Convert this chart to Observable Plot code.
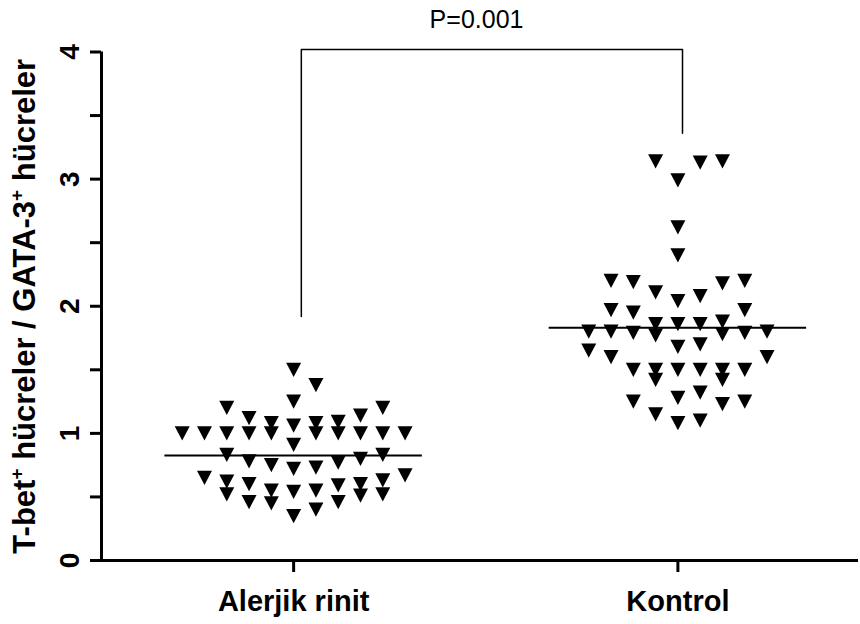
<!DOCTYPE html>
<html>
<head>
<meta charset="utf-8">
<script src="https://cdn.jsdelivr.net/npm/d3@7"></script>
<script src="https://cdn.jsdelivr.net/npm/@observablehq/plot@0.6"></script>
<style>
  html, body { margin: 0; padding: 0; background: #fff; }
</style>
</head>
<body>
<div id="chart"></div>
<script>
// ---- data ----
const groups = ["Alerjik rinit", "Kontrol"];
const alerjikRinit = [
  0.35, 0.40, 0.45, 0.46, 0.46, 0.51, 0.52, 0.52,
  0.54, 0.55, 0.55, 0.59, 0.60, 0.60, 0.62, 0.63, 0.65, 0.67,
  0.72, 0.73, 0.75, 0.77, 0.78, 0.80, 0.83, 0.83,
  0.91, 1.00, 1.00, 1.00, 1.00, 1.00, 1.00, 1.00, 1.00, 1.00, 1.00,
  1.06, 1.08, 1.08, 1.09, 1.12, 1.14, 1.20, 1.20,
  1.25, 1.38, 1.50
];
const kontrol = [
  1.08, 1.10, 1.15, 1.23, 1.25, 1.25,
  1.28, 1.32, 1.42, 1.42,
  1.50, 1.50, 1.50, 1.50, 1.50, 1.50, 1.60, 1.60, 1.65,
  1.68, 1.70, 1.77, 1.78, 1.79, 1.79, 1.80, 1.80, 1.80,
  1.86, 1.86, 1.86, 1.88, 1.95, 1.97, 1.97,
  2.04, 2.08, 2.11, 2.18, 2.19, 2.20, 2.20,
  2.40, 2.62,
  2.99, 3.13, 3.14, 3.14
];
const medians = [0.825, 1.83];
const yTicks = [0, 1, 2, 3, 4];
const yMinorTicks = [0.5, 1.5, 2.5, 3.5];
const pLabel = "P=0.001";
const bracketX = [0.02, 1.012];          // legs of the significance bracket
const bracketY = [1.92, 4.02, 3.36];     // left foot, top, right foot
const yTitleParts = ["T-bet", "+", " hücreler / GATA-3", "+", " hücreler"];

// ---- column-scatter layout (Prism-like rows, lowest value in centre) ----
const ROW_H = 0.175, ROW_MAX = 11, COL_W = 0.058;
function columnScatter(values, gi) {
  const sorted = values.slice().sort((a, b) => a - b);
  const rows = [];
  let row = null;
  for (const v of sorted) {
    if (!row || v >= row.start + ROW_H || row.items.length >= ROW_MAX) {
      row = {start: v, items: []};
      rows.push(row);
    }
    row.items.push(v);
  }
  const out = [];
  for (const r of rows) {
    r.items.forEach((v, k) => {
      const slot = k === 0 ? 0 : (k % 2 ? (k + 1) / 2 : -k / 2);
      out.push({group: groups[gi], gi, value: v, x: gi + slot * COL_W});
    });
  }
  return out;
}
const points = [...columnScatter(alerjikRinit, 0), ...columnScatter(kontrol, 1)];
const medianData = medians.map((m, gi) => ({gi, m}));
const bracket = [
  {x: bracketX[0], y: bracketY[0]},
  {x: bracketX[0], y: bracketY[1]},
  {x: bracketX[1], y: bracketY[1]},
  {x: bracketX[1], y: bracketY[2]}
];

// inverted triangle symbol, box-centred
const invTriangle = {
  draw(context, size) {
    const a = Math.sqrt(size / Math.PI);
    const h = a * 0.95;
    context.moveTo(-a, -h);
    context.lineTo(a, -h);
    context.lineTo(0, h);
    context.closePath();
  }
};

const titleText = yTitleParts.join("");

const chart = Plot.plot({
  width: 860,
  height: 624,
  marginLeft: 101,
  marginRight: 2,
  marginTop: 51.5,
  marginBottom: 64,
  x: {domain: [-0.5, 1.47], axis: null},
  y: {domain: [0, 4], axis: null},
  style: {fontFamily: "'Liberation Sans', Arial, sans-serif", background: "white", color: "black", overflow: "visible"},
  marks: [
    // axes lines
    Plot.ruleX([-0.5], {y1: 0, y2: 4, strokeWidth: 3, stroke: "black"}),
    Plot.ruleY([0], {x1: -0.5, x2: 1.47, strokeWidth: 3, stroke: "black"}),
    // y ticks (major + minor)
    Plot.axisY([...yTicks, ...yMinorTicks], {tickSize: 11, strokeWidth: 3, tickFormat: () => "", stroke: "black", label: null}),
    // x ticks
    Plot.axisX([0, 1], {tickSize: 12, strokeWidth: 3, tickFormat: () => "", stroke: "black", label: null}),
    // y tick labels
    Plot.text(yTicks, {x: -0.5, y: d => d, text: d => String(d), rotate: -90, dx: -23,
      lineAnchor: "bottom", textAnchor: "middle", fontSize: 28, fontWeight: "bold", fill: "black"}),
    // x labels
    Plot.text(groups, {x: (d, i) => i, y: 0, text: d => d, dy: 50, lineAnchor: "bottom",
      fontSize: 29, fontWeight: "bold", fill: "black"}),
    // y title
    Plot.text([titleText], {frameAnchor: "left", text: d => d, rotate: -90, dx: -67,
      lineAnchor: "bottom", textAnchor: "middle", fontSize: 31, fontWeight: "bold", fill: "black"}),
    // medians
    Plot.ruleY(medianData, {y: "m", x1: d => d.gi - 0.335, x2: d => d.gi + 0.335, strokeWidth: 2, stroke: "black"}),
    // points
    Plot.dot(points, {x: "x", y: "value", r: 7.5, symbol: invTriangle, fill: "black", stroke: "none"}),
    // significance bracket
    Plot.line(bracket, {x: "x", y: "y", stroke: "black", strokeWidth: 1.5}),
    Plot.text([pLabel], {x: (bracketX[0] + bracketX[1]) / 2 - 0.04, y: 4, text: d => d, dy: -24.5,
      lineAnchor: "bottom", fontSize: 25, fill: "black"})
  ]
});

// superscripts in the y title
for (const t of chart.querySelectorAll("text")) {
  if (t.textContent === titleText) {
    const ns = "http://www.w3.org/2000/svg";
    while (t.firstChild) t.removeChild(t.firstChild);
    yTitleParts.forEach((part, i) => {
      const sp = document.createElementNS(ns, "tspan");
      sp.textContent = part;
      if (part === "+") {
        sp.setAttribute("font-size", "19");
        sp.setAttribute("dy", "-12");
      } else if (i > 0) {
        sp.setAttribute("dy", "12");
      }
      t.appendChild(sp);
    });
  }
}

document.getElementById("chart").appendChild(chart);
</script>
</body>
</html>
